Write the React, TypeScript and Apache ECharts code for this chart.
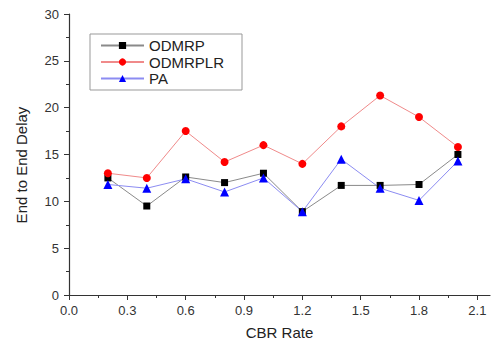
import React, { useEffect, useRef } from "react";
import * as echarts from "echarts";

const xValues = [0.2, 0.4, 0.6, 0.8, 1.0, 1.2, 1.4, 1.6, 1.8, 2.0];
const odmrp = [12.5, 9.5, 12.6, 12.0, 13.0, 8.9, 11.7, 11.7, 11.8, 15.0];
const odmrplr = [13.0, 12.5, 17.5, 14.2, 16.0, 14.0, 18.0, 21.3, 19.0, 15.8];
const pa = [11.8, 11.4, 12.4, 11.0, 12.5, 8.9, 14.5, 11.4, 10.1, 14.3];
const xTicks = [0, 0.3, 0.6, 0.9, 1.2, 1.5, 1.8, 2.1];
const xMinorTicks = [0.15, 0.45, 0.75, 1.05, 1.35, 1.65, 1.95];
const seriesNames = ["ODMRP", "ODMRPLR", "PA"];
const xTitle = "CBR Rate";
const yTitle = "End to End Delay";

const FONT = "'Liberation Sans', Arial, sans-serif";

export default function App() {
  const ref = useRef<HTMLDivElement>(null);
  useEffect(() => {
    if (!ref.current) return;
    const chart = echarts.init(ref.current, null, { renderer: "svg" });
    const pair = (ys: number[]) => xValues.map((x, i) => [x, ys[i]]);
    const axisColor = "#333";
    chart.setOption({
      animation: false,
      backgroundColor: "#fff",
      textStyle: { fontFamily: FONT },
      grid: { left: 69, top: 14, bottom: 46, right: 1, outerBoundsMode: "none", containLabel: false },
      legend: {
        data: seriesNames,
        orient: "vertical",
        left: 100,
        top: 38,
        padding: 0,
        itemWidth: 43,
        itemHeight: 9,
        itemGap: 1.5,
        textStyle: { fontSize: 15, color: "#222", fontFamily: FONT },
      },
      graphic: [
        {
          type: "rect",
          shape: { x: 90, y: 34, width: 152, height: 56 },
          style: { fill: "none", stroke: "#999", lineWidth: 1 },
          z: 100,
        },
        {
          type: "text",
          x: 21,
          y: 165,
          rotation: Math.PI / 2,
          style: {
            text: yTitle,
            fontSize: 15,
            fontFamily: FONT,
            fill: "#222",
            align: "center",
            verticalAlign: "middle",
          },
        },
      ],
      xAxis: [
        {
          type: "value",
          min: 0,
          max: 2.165,
          interval: 0.3,
          name: xTitle,
          nameLocation: "middle",
          nameGap: 30,
          nameTextStyle: { fontSize: 15, color: "#222", fontFamily: FONT },
          axisLine: { show: true, onZero: false, lineStyle: { color: axisColor, width: 1.2 } },
          axisTick: { show: true, length: 5, customValues: xTicks, lineStyle: { color: axisColor } },
          axisLabel: {
            customValues: xTicks,
            formatter: (v: number) => v.toFixed(1),
            fontSize: 13,
            color: "#333",
            margin: 9,
            fontFamily: FONT,
          },
          splitLine: { show: false },
        },
        {
          type: "value",
          min: 0,
          max: 2.165,
          interval: 0.3,
          position: "bottom",
          axisLine: { show: false },
          axisTick: { show: true, length: 3, customValues: xMinorTicks, lineStyle: { color: axisColor } },
          axisLabel: { show: false },
          splitLine: { show: false },
        },
      ],
      yAxis: {
        type: "value",
        min: 0,
        max: 30,
        interval: 5,
        axisLine: { show: true, lineStyle: { color: axisColor, width: 1.2 } },
        axisTick: { show: true, length: 5, lineStyle: { color: axisColor } },
        minorTick: { show: true, splitNumber: 2, length: 3, lineStyle: { color: axisColor } },
        axisLabel: { fontSize: 13, color: "#333", margin: 10, fontFamily: FONT },
        splitLine: { show: false },
      },
      series: [
        {
          name: "ODMRP",
          type: "line",
          data: pair(odmrp),
          symbol: "rect",
          symbolSize: 7,
          lineStyle: { color: "#8a8a8a", width: 1 },
          itemStyle: { color: "#000" },
        },
        {
          name: "ODMRPLR",
          type: "line",
          data: pair(odmrplr),
          symbol: "circle",
          symbolSize: 8,
          lineStyle: { color: "#f08a8a", width: 1 },
          itemStyle: { color: "#ff0000" },
        },
        {
          name: "PA",
          type: "line",
          data: pair(pa),
          symbol: "triangle",
          symbolSize: 9,
          lineStyle: { color: "#8c8cf2", width: 1 },
          itemStyle: { color: "#0000ff" },
        },
      ],
    });
    return () => chart.dispose();
  }, []);
  return (
    <div
      ref={ref}
      style={{ position: "fixed", left: 0, top: 0, width: 491, height: 341, background: "#fff" }}
    />
  );
}
